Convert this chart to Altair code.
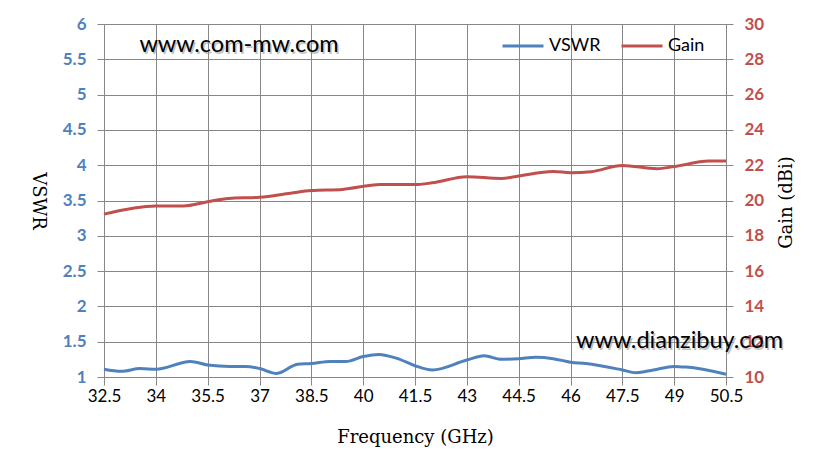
import altair as alt
import pandas as pd

# VSWR series
vswr_freq = [32.5, 33.0, 33.55, 34.0, 35.0, 35.5, 36.15, 36.6, 37.0, 37.5, 38.1, 38.5,
             39.05, 39.5, 40.0, 40.45, 41.0, 41.5, 42.0, 43.0, 43.5, 44.0, 44.5, 45.0,
             45.5, 46.0, 46.45, 47.5, 47.9, 48.4, 49.0, 49.35, 50.5]
vswr_vals = [1.11, 1.08, 1.12, 1.11, 1.22, 1.17, 1.15, 1.15, 1.12, 1.05, 1.18, 1.19,
             1.22, 1.22, 1.29, 1.32, 1.26, 1.16, 1.10, 1.24, 1.30, 1.25, 1.26, 1.28,
             1.26, 1.21, 1.19, 1.10, 1.06, 1.10, 1.15, 1.14, 1.04]

# Gain series
gain_freq = [32.5, 34.0, 34.8, 35.5, 36.1, 37.0, 37.9, 38.5, 39.4, 40.5, 41.5, 42.0,
             43.0, 44.0, 44.5, 45.5, 46.0, 46.6, 47.5, 48.5, 49.0, 50.0, 50.5]
gain_vals = [19.23, 19.69, 19.69, 19.93, 20.12, 20.18, 20.41, 20.56, 20.63, 20.91, 20.90, 21.0,
             21.35, 21.25, 21.39, 21.65, 21.57, 21.63, 21.99, 21.80, 21.92, 22.24, 22.24]

x_ticks = [32.5, 34, 35.5, 37, 38.5, 40, 41.5, 43, 44.5, 46, 47.5, 49, 50.5]
vswr_ticks = [1, 1.5, 2, 2.5, 3, 3.5, 4, 4.5, 5, 5.5, 6]
gain_ticks = [10, 12, 14, 16, 18, 20, 22, 24, 26, 28, 30]
series_names = ["VSWR", "Gain"]
series_colors = ["#4F81BD", "#C0504D"]

GRID = "#878787"
TITLE_FONT = "DejaVu Serif"

df_v = pd.DataFrame({"freq": vswr_freq, "value": vswr_vals, "series": "VSWR"})
df_g = pd.DataFrame({"freq": gain_freq, "value": gain_vals, "series": "Gain"})

xenc = alt.X("freq:Q",
             scale=alt.Scale(domain=[32.5, 50.5], nice=False, zero=False),
             axis=alt.Axis(values=x_ticks, format=".1~f", title="Frequency (GHz)",
                           labelFont="Lato", labelFontSize=17, labelColor="black",
                           labelPadding=3, tickSize=8, tickColor=GRID, domainColor=GRID,
                           gridColor=GRID, grid=True, labelFlush=False,
                           titleFont=TITLE_FONT, titleFontSize=18, titleFontWeight="normal",
                           titleColor="black", titleY=60, titleBaseline="middle"))

color = alt.Color("series:N",
                  scale=alt.Scale(domain=series_names, range=series_colors),
                  legend=alt.Legend(title=None, orient="none", legendX=397, legendY=0,
                                    direction="horizontal", symbolType="stroke",
                                    symbolSize=1681, symbolStrokeWidth=3,
                                    labelFont="Lato", labelFontSize=18, labelColor="black",
                                    labelOffset=4, columnPadding=14))

vswr = alt.Chart(df_v).mark_line(strokeWidth=3, interpolate="monotone").encode(
    x=xenc,
    y=alt.Y("value:Q",
            scale=alt.Scale(domain=[1, 6], nice=False, zero=False),
            axis=alt.Axis(values=vswr_ticks, format="~g", title="VSWR", orient="left",
                          labelFont="Lato", labelFontSize=17, labelFontWeight="bold",
                          labelColor="#4F81BD", labelPadding=11, tickSize=7,
                          tickColor=GRID, domainColor=GRID, grid=True, gridColor=GRID,
                          titleAngle=90, titleX=-67, titleY=176.5, titleAlign="center",
                          titleBaseline="middle", titleFont=TITLE_FONT,
                          titleFontSize=18, titleFontWeight="normal", titleColor="black")),
    color=color,
)

gain = alt.Chart(df_g).mark_line(strokeWidth=3, interpolate="monotone").encode(
    x=xenc,
    y=alt.Y("value:Q",
            scale=alt.Scale(domain=[10, 30], nice=False, zero=False),
            axis=alt.Axis(values=gain_ticks, format="~g", title="Gain (dBi)", orient="right",
                          labelFont="Lato", labelFontSize=17, labelFontWeight="bold",
                          labelColor="#C0504D", labelPadding=11, tickSize=7,
                          tickColor=GRID, domainColor=GRID, grid=False,
                          titleAngle=270, titleX=60, titleY=178, titleAlign="center",
                          titleBaseline="middle", titleFont=TITLE_FONT,
                          titleFontSize=18, titleFontWeight="normal", titleColor="black")),
    color=color,
)

wm1 = pd.DataFrame({"t": ["www.com-mw.com"]})
wm2 = pd.DataFrame({"t": ["www.dianzibuy.com"]})

def watermark(df, x, y, size, align):
    shadow = alt.Chart(df).mark_text(font="Lato", fontSize=size, color="#9a9a9a", opacity=0.6,
                                     align=align, baseline="middle", dx=1.5, dy=1.5).encode(
        x=alt.value(x), y=alt.value(y), text="t:N")
    main = alt.Chart(df).mark_text(font="Lato", fontSize=size, color="black",
                                   align=align, baseline="middle").encode(
        x=alt.value(x), y=alt.value(y), text="t:N")
    return shadow + main

chart = alt.layer(
    vswr, gain,
    watermark(wm1, 135, 21, 23.5, "center"),
    watermark(wm2, 472, 317, 23.5, "left"),
).resolve_scale(y="independent").properties(
    width=622, height=353,
    autosize=alt.AutoSizeParams(type="none"),
    padding={"left": 96, "top": 16, "right": 93, "bottom": 88},
).configure_view(stroke=None).configure(background="white")

chart.save("out.html", embed_options={"renderer": "svg", "actions": False})
